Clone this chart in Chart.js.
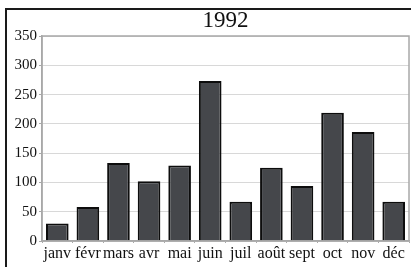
<!DOCTYPE html>
<html><head><meta charset="utf-8">
<script src="https://cdn.jsdelivr.net/npm/chart.js@4"></script>
<style>html,body{margin:0;padding:0;background:#fff;}#c{display:block;}</style>
</head><body>
<canvas id="c" width="411" height="267"></canvas>
<script>
const titleText = "1992";
const categories = ["janv","févr","mars","avr","mai","juin","juil","août","sept","oct","nov","déc"];
const values = [30, 58, 133, 102, 129, 273, 67, 125, 94, 219, 186, 67];
const yTicks = [0, 50, 100, 150, 200, 250, 300, 350];

const framePlugin = {
  id: 'frame',
  beforeDraw(chart) {
    const ctx = chart.ctx;
    ctx.save();
    ctx.strokeStyle = '#1a1a1a';
    ctx.lineWidth = 2;
    ctx.beginPath();
    ctx.moveTo(6, 267);
    ctx.lineTo(6, 9);
    ctx.lineTo(411, 9);
    ctx.stroke();
    ctx.restore();
  },
  afterDatasetsDraw(chart) {
    const a = chart.chartArea, ctx = chart.ctx;
    ctx.save();
    ctx.strokeStyle = '#a8a8a8';
    ctx.lineWidth = 1.5;
    ctx.strokeRect(a.left, a.top, a.right - a.left, a.bottom - a.top);
    ctx.restore();
  }
};

new Chart(document.getElementById('c'), {
  type: 'bar',
  data: {
    labels: categories,
    datasets: [{
      data: values,
      backgroundColor: '#45474b',
      borderColor: '#0d0d0d',
      borderWidth: 2,
      categoryPercentage: 1,
      barPercentage: 0.74
    }]
  },
  options: {
    responsive: false,
    animation: false,
    devicePixelRatio: 1,
    layout: { padding: { left: 0, right: 2, top: 0, bottom: 0 } },
    plugins: {
      legend: { display: false },
      tooltip: { enabled: false },
      title: {
        display: true,
        text: titleText,
        fullSize: false,
        align: 'center',
        color: '#111',
        font: { family: '"Liberation Serif", "Times New Roman", serif', size: 23, weight: 'normal' },
        padding: { top: 7, bottom: 1.4 }
      }
    },
    scales: {
      x: {
        grid: { display: true, drawOnChartArea: false, color: '#a8a8a8', tickLength: 2, offset: true },
        border: { display: true, color: '#a8a8a8', width: 1.5 },
        ticks: {
          color: '#111',
          padding: 1,
          maxRotation: 0,
          autoSkip: false,
          font: { family: '"Liberation Serif", "Times New Roman", serif', size: 16 }
        },
        afterFit(s) { s.height = 26; }
      },
      y: {
        min: 0,
        max: 350,
        afterBuildTicks(s) { s.ticks = yTicks.map(v => ({ value: v })); },
        grid: { color: '#d8d8d8', lineWidth: 1, tickLength: 3, tickColor: '#a8a8a8' },
        border: { display: true, color: '#a8a8a8', width: 1.5 },
        ticks: {
          color: '#111',
          padding: 2,
          font: { family: '"Liberation Serif", "Times New Roman", serif', size: 15 }
        },
        afterFit(s) { s.width = 42; }
      }
    }
  },
  plugins: [framePlugin]
});
</script>
</body></html>
